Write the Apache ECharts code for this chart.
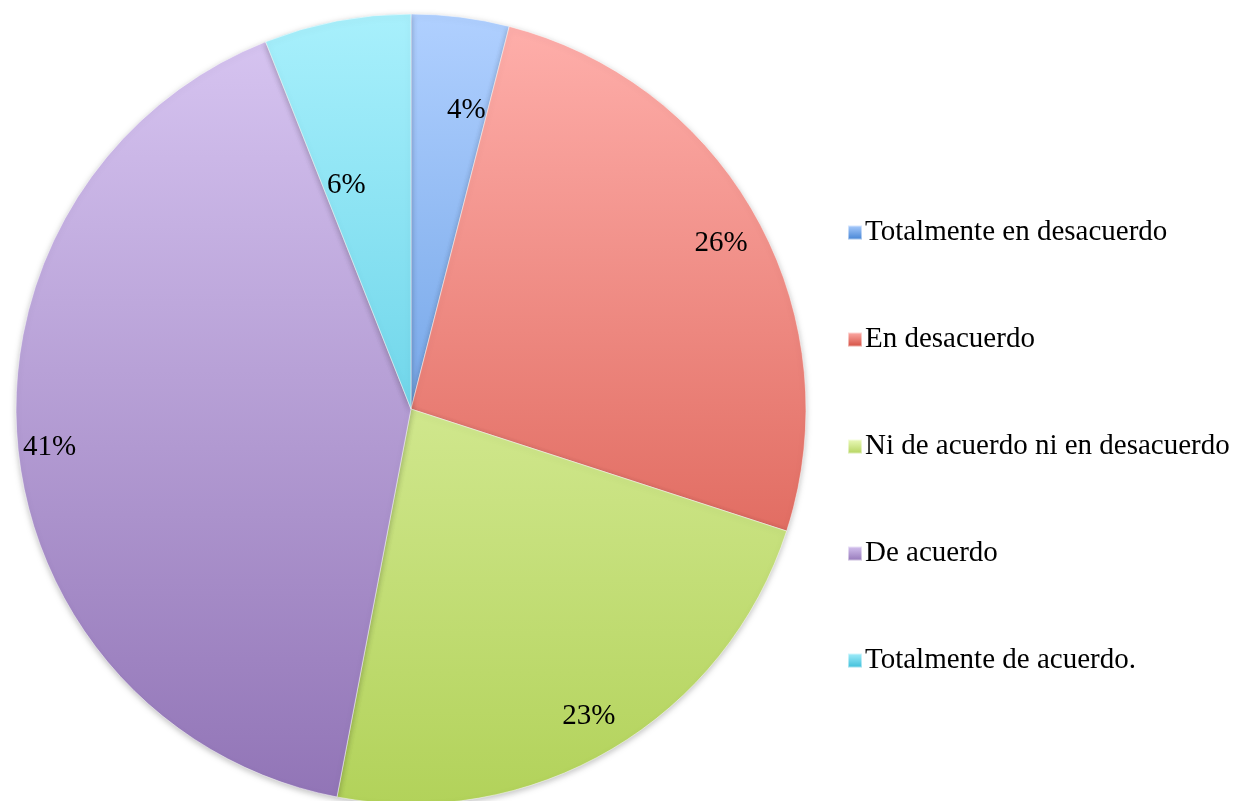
<!DOCTYPE html>
<html><head><meta charset="utf-8">
<script src="https://cdn.jsdelivr.net/npm/echarts@6/dist/echarts.min.js"></script>
<style>html,body{margin:0;padding:0;background:#fff}#c{width:1241px;height:801px}</style>
</head><body><div id="c"></div>
<script>
const categories = ['Totalmente en desacuerdo','En desacuerdo','Ni de acuerdo ni en desacuerdo','De acuerdo','Totalmente de acuerdo.'];
const values = [4, 26, 23, 41, 6];
const colorTop = ['#b0d0ff','#ffb0ac','#eefcc0','#d8c6f2','#a8f0fc'];
const colorBottom = ['#3f80d2','#d24a3c','#b2d25a','#9174b6','#38bcd8'];
const labelRadiusFactor = [0.77, 0.89, 0.90, 0.92, 0.59];
const labelAngleShift = [3.3, 0.7, 0.6, -0.7, -5.3];

const CX = 411, CY = 409, R = 395;
const chart = echarts.init(document.getElementById('c'));
function grad(i){
  return new echarts.graphic.LinearGradient(0, CY - R, 0, CY + R, [
    {offset:0, color: colorTop[i]}, {offset:1, color: colorBottom[i]}], true);
}
chart.setOption({
  animation:false,
  legend:{
    orient:'vertical', left:842, top:213, itemGap:78,
    itemWidth:14, itemHeight:14, itemGap:78, icon:'rect',
    textStyle:{fontFamily:'Liberation Serif', fontSize:29, color:'#000', padding:[0,0,0,-2]},
    data: categories.map((c,i)=>({name:c, itemStyle:{color: new echarts.graphic.LinearGradient(0,0,0,1,[{offset:0,color:colorTop[i]},{offset:1,color:colorBottom[i]}])}}))
  },
  series:[{
    type:'pie', center:[CX, CY], radius:[0, R], startAngle:90, clockwise:true,
    itemStyle:{borderColor:'rgba(255,255,255,0.5)', borderWidth:1, shadowBlur:6, shadowColor:'rgba(0,0,0,0.25)', shadowOffsetY:2},
    label:{position:'inside', formatter:'{d}%', fontFamily:'Liberation Serif', fontSize:29, color:'#000'},
    labelLine:{show:false},
    emphasis:{disabled:true},
    labelLayout:function(p){
      const r = p.labelRect;
      const lx = r.x + r.width/2, ly = r.y + r.height/2;
      const dx = lx - CX, dy = ly - CY;
      let a = Math.atan2(dx, -dy) + labelAngleShift[p.dataIndex]*Math.PI/180;
      const rr = labelRadiusFactor[p.dataIndex]*R;
      return {x: CX + rr*Math.sin(a), y: CY - rr*Math.cos(a)};
    },
    data: categories.map((c,i)=>({name:c, value:values[i], itemStyle:{color:grad(i)}}))
  }]
});
</script></body></html>
